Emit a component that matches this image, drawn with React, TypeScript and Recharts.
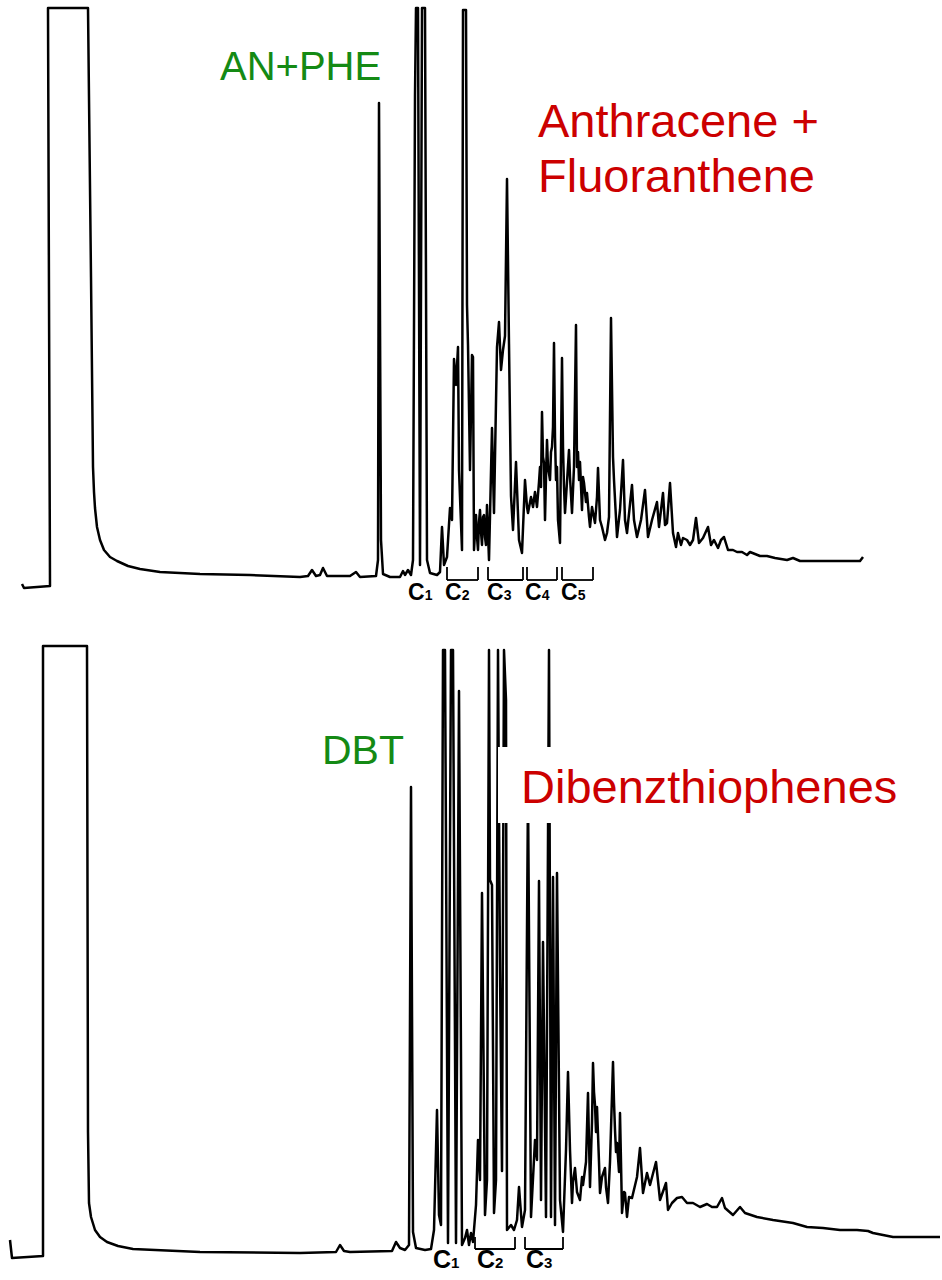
import React from 'react';
import { LineChart, Line, XAxis, YAxis, ReferenceLine } from 'recharts';

// Retention index vs. detector signal (arbitrary units).
const topTrace: [number, number][] = [
  [22, -7], [24, -11], [50, -9], [48, 569], [88, 569], [91, 300], [93, 110], [94, 85], [95, 69], [97, 50],
  [100, 37], [104, 27], [110, 20], [117, 16], [128, 11], [140, 8], [160, 5], [200, 3], [250, 2], [300, 0],
  [308, 1], [312, 7], [316, 1],
  [320, 2], [323, 9], [327, 1], [350, 1], [356, 5], [360, 0], [376, 1], [378, 17], [379, 474], [381, 37],
  [383, 3], [390, 0], [400, 0], [403, 6], [405, 2], [408, 7], [411, 2], [413, 17], [415, 482], [416, 569],
  [418, 569], [420, 12], [422, 569], [425, 569], [427, 17], [430, 4], [437, 2], [440, 5], [442, 50], [444, 12],
  [447, 20], [450, 69], [452, 57], [454, 218], [456, 192], [458, 230], [459, 107], [462, 27], [463, 567], [466, 567],
  [467, 272], [468, 232], [470, 107], [472, 222], [473, 220], [474, 27], [476, 62], [477, 40], [478, 27], [479, 55],
  [480, 67], [481, 45], [482, 32], [483, 60],
  [484, 62], [485, 40], [486, 32], [487, 72], [489, 17], [492, 149], [494, 64], [497, 230], [499, 255], [501, 207],
  [503, 227], [505, 241], [507, 398], [509, 233], [511, 81], [513, 47], [516, 115], [519, 37], [522, 24], [525, 97],
  [527, 70], [528, 64], [531, 80], [533, 70], [535, 85], [537, 70], [539, 95], [540, 110], [541, 90], [542, 165],
  [543, 120], [544, 114], [545, 57], [546, 100], [547, 137], [548, 110], [550, 97], [551, 125], [552, 130], [553, 150],
  [554, 234], [555, 140], [556, 97], [557, 110], [558, 57], [560, 34], [562, 219], [563, 130], [564, 90], [565, 64],
  [567, 95], [569, 127], [570, 100], [572, 64], [574, 110], [576, 252], [577, 110], [578, 125], [579, 97], [580, 115],
  [582, 67], [583, 100], [584, 94], [586, 75], [587, 84], [589, 60], [590, 50], [592, 70], [595, 54], [597, 80],
  [598, 109], [600, 57], [602, 50], [605, 37], [607, 44], [609, 60], [611, 259], [613, 120], [614, 97], [617, 40],
  [620, 67], [623, 117], [625, 57], [627, 44], [632, 92], [634, 57], [637, 40],
  [641, 57], [645, 87], [648, 40], [652, 57], [657, 75], [659, 50], [663, 84], [665, 52], [667, 54], [670, 94],
  [673, 44], [676, 30], [678, 44], [681, 32], [683, 39], [687, 37], [690, 32], [693, 37], [696, 59], [699, 34],
  [703, 39], [708, 50], [711, 32], [714, 37], [718, 29], [721, 37], [724, 40], [728, 27], [733, 27], [737, 25],
  [742, 25], [747, 22], [750, 25], [755, 23], [760, 21], [767, 21], [775, 19], [787, 17], [793, 19], [800, 16],
  [820, 16], [840, 16], [860, 16], [863, 20],
];

const bottomTrace: [number, number][] = [
  [10, 12], [12, -6], [43, -4], [43, 606], [87, 606], [88, 120], [89, 49], [91, 35], [95, 22], [100, 15],
  [107, 10], [118, 6], [133, 3], [200, 0],
  [300, -1], [336, 0], [340, 7], [344, 1], [350, 0], [392, 1], [396, 10], [400, 4], [405, 2], [409, 7],
  [411, 465], [413, 20], [416, 4], [425, 2], [431, 3], [434, 22], [437, 142], [439, 37], [441, 27], [443, 602],
  [445, 602], [448, 9], [451, 602], [453, 602], [456, 9], [459, 561], [462, 7], [465, 14], [467, 22], [469, 7],
  [471, 19], [473, 10], [476, 47], [478, 112], [480, 72], [482, 359], [485, 37], [487, 72], [489, 602], [490, 372],
  [492, 367], [494, 39], [496, 72], [498, 602], [500, 282], [502, 81], [504, 602], [506, 552], [507, 22], [511, 27],
  [514, 22], [517, 32], [519, 65], [522, 25], [525, 42], [528, 462], [531, 35], [535, 112], [537, 92], [539, 371],
  [541, 52], [543, 310], [546, 35], [549, 602], [551, 35], [553, 375], [555, 27], [557, 379], [560, 52], [563, 20],
  [566, 102], [568, 180], [570, 102], [572, 49], [573, 70], [575, 84], [577, 60], [580, 52], [582, 75], [583, 67],
  [586, 90], [588, 159], [589, 110], [590, 65], [592, 130], [593, 189], [594, 160], [595, 147], [596, 120], [597, 145],
  [599, 90], [600, 59], [602, 75], [605, 84], [606, 65], [608, 49], [610, 90], [613, 190], [614, 150], [615, 122],
  [616, 100], [617, 109], [619, 80], [620, 139], [621, 90], [622, 39], [624, 60], [625, 59], [627, 35], [629, 55],
  [632, 54], [637, 75], [640, 104], [643, 59], [647, 79], [650, 67], [656, 90], [660, 52],
  [666, 69], [668, 42], [672, 49], [677, 54], [682, 55], [687, 49], [693, 49], [700, 45], [707, 48], [712, 45],
  [717, 45], [722, 54], [725, 44], [733, 37], [740, 45], [745, 39], [757, 35], [773, 32], [793, 29], [807, 25],
  [823, 24], [840, 22], [857, 22], [868, 21], [873, 19], [893, 15], [907, 15], [923, 15], [940, 15],
];

// Alkyl-homologue brackets (retention index ranges)
const topBrackets: [number, number][] = [[447, 478], [488, 523], [527, 557], [562, 593]];
const bottomBrackets: [number, number][] = [[475, 515], [525, 563]];

// Homologue labels: [subscript digit, retention index of label start]
const topCLabels: [string, number][] = [['1', 408], ['2', 445], ['3', 487], ['4', 525], ['5', 561]];
const bottomCLabels: [string, number][] = [['1', 433], ['2', 477], ['3', 526]];

const topData = topTrace.map(([t, s]) => ({ t, s }));
const bottomData = bottomTrace.map(([t, s]) => ({ t, s }));

const FONT = '"Liberation Sans", Arial, Helvetica, sans-serif';
const GREEN = '#148a14';
const RED = '#cc0000';

function bracketLines(list: [number, number][], base: number, tick: number, key: string) {
  const out: React.ReactElement[] = [];
  list.forEach(([a, b], i) => {
    out.push(
      <ReferenceLine key={`${key}h${i}`} segment={[{ x: a, y: base }, { x: b, y: base }]} stroke="#000" strokeWidth={1.8} />
    );
    out.push(
      <ReferenceLine key={`${key}l${i}`} segment={[{ x: a, y: base }, { x: a, y: tick }]} stroke="#000" strokeWidth={1.8} />
    );
    out.push(
      <ReferenceLine key={`${key}r${i}`} segment={[{ x: b, y: base }, { x: b, y: tick }]} stroke="#000" strokeWidth={1.8} />
    );
  });
  return out;
}

export default function App() {
  return (
    <div style={{ position: 'absolute', left: 0, top: 0, width: 942, height: 1280, background: '#fff', overflow: 'hidden' }}>
      <div style={{ position: 'absolute', left: 0, top: 0 }}>
        <LineChart width={942} height={600} data={topData} margin={{ top: 0, right: 0, bottom: 0, left: 0 }}>
          <XAxis type="number" dataKey="t" domain={[0, 942]} hide />
          <YAxis type="number" domain={[-23, 577]} hide />
          <Line
            dataKey="s"
            type="linear"
            stroke="#000"
            strokeWidth={2.5}
            strokeLinejoin="round"
            dot={false}
            activeDot={false}
            isAnimationActive={false}
          />
          {bracketLines(topBrackets, -3, 10, 't')}
        </LineChart>
      </div>
      <div style={{ position: 'absolute', left: 0, top: 620 }}>
        <LineChart width={942} height={660} data={bottomData} margin={{ top: 0, right: 0, bottom: 0, left: 0 }}>
          <XAxis type="number" dataKey="t" domain={[0, 942]} hide />
          <YAxis type="number" domain={[-28, 632]} hide />
          <Line
            dataKey="s"
            type="linear"
            stroke="#000"
            strokeWidth={2.5}
            strokeLinejoin="round"
            dot={false}
            activeDot={false}
            isAnimationActive={false}
          />
          {bracketLines(bottomBrackets, 3, 15, 'b')}
        </LineChart>
      </div>
      <svg
        width={942}
        height={1280}
        style={{ position: 'absolute', left: 0, top: 0, pointerEvents: 'none' }}
        fontFamily={FONT}
      >
        <text x={220} y={80} fontSize={40} fill={GREEN}>AN+PHE</text>
        <text x={538} y={137} fontSize={47} fill={RED}>Anthracene +</text>
        <text x={538} y={192} fontSize={47} fill={RED}>Fluoranthene</text>
        {topCLabels.map(([d, x]) => (
          <text key={`tc${d}`} x={x} y={600} fontSize={23} fontWeight="bold" fill="#000">
            C<tspan fontSize={14}>{d}</tspan>
          </text>
        ))}
        <text x={322} y={764} fontSize={41} fill={GREEN}>DBT</text>
        <rect x={498} y={747} width={444} height={76} fill="#fff" />
        <text x={521} y={803} fontSize={47} fill={RED}>Dibenzthiophenes</text>
        {bottomCLabels.map(([d, x]) => (
          <text key={`bc${d}`} x={x} y={1268} fontSize={25} fontWeight="bold" fill="#000">
            C<tspan fontSize={15}>{d}</tspan>
          </text>
        ))}
      </svg>
    </div>
  );
}
